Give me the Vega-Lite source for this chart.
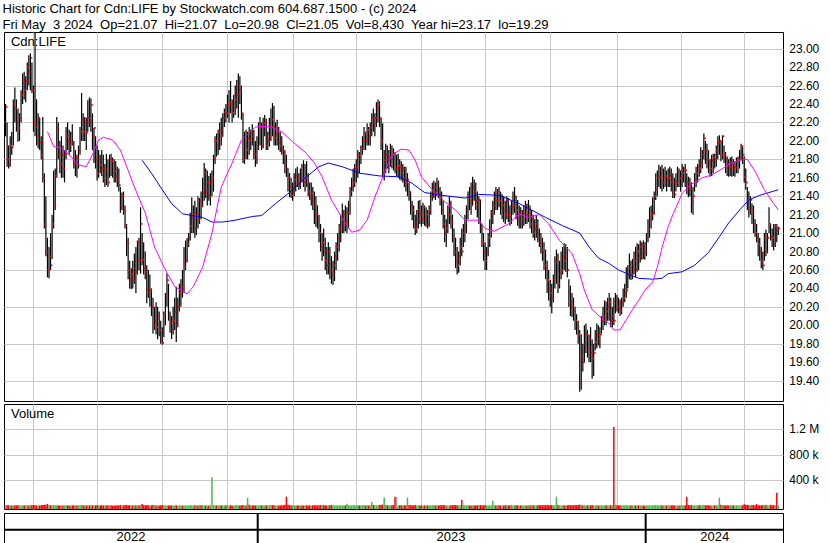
{
"$schema":"https://vega.github.io/schema/vega-lite/v6.json",
"padding":{"left":2,"top":2,"right":0,"bottom":0},
"background":"white",
"config":{"font":"Liberation Sans","view":{"stroke":"black","strokeWidth":1},"axis":{"gridColor":"#c8c8c8","gridOpacity":1,"gridWidth":1,"labelFont":"Liberation Sans","labelFontSize":12,"labelColor":"black"}},
"title":{"text":"Historic Chart for Cdn:LIFE by Stockwatch.com 604.687.1500 - (c) 2024","subtitle":"Fri May\u00a0 3 2024\u00a0 Op=21.07\u00a0 Hi=21.07\u00a0 Lo=20.98\u00a0 Cl=21.05\u00a0 Vol=8,430\u00a0 Year hi=23.17\u00a0 lo=19.29","anchor":"start","font":"Liberation Sans","subtitleFont":"Liberation Sans","fontSize":13,"subtitleFontSize":13,"fontWeight":"normal","color":"black","subtitleColor":"black","subtitlePadding":3,"offset":0},
"datasets":{
"px":[{"i":0,"h":22.4,"l":22.05,"c":22.37,"v":12},{"i":1,"h":22.2,"l":21.72,"c":21.8,"v":15},{"i":2,"h":21.95,"l":21.7,"c":21.75,"v":10},{"i":3,"h":22.05,"l":21.72,"c":21.95,"v":8},{"i":4,"h":22.1,"l":21.85,"c":21.93,"v":6},{"i":5,"h":22.45,"l":21.95,"c":22.4,"v":9},{"i":6,"h":22.58,"l":22.2,"c":22.35,"v":11},{"i":7,"h":22.45,"l":22.1,"c":22.2,"v":7},{"i":8,"h":22.35,"l":21.99,"c":22.14,"v":14},{"i":9,"h":22.3,"l":22.0,"c":22.25,"v":9},
{"i":10,"h":22.55,"l":22.2,"c":22.5,"v":6},{"i":11,"h":22.73,"l":22.4,"c":22.63,"v":10},{"i":12,"h":22.75,"l":22.45,"c":22.55,"v":8},{"i":13,"h":22.7,"l":22.42,"c":22.65,"v":12},{"i":14,"h":22.85,"l":22.55,"c":22.8,"v":9},{"i":15,"h":22.93,"l":22.6,"c":22.75,"v":7},{"i":16,"h":22.95,"l":22.55,"c":22.9,"v":11},{"i":17,"h":22.85,"l":22.52,"c":22.55,"v":15},{"i":18,"h":22.6,"l":22.1,"c":22.2,"v":13},{"i":19,"h":23.17,"l":22.05,"c":22.15,"v":10},
{"i":20,"h":22.45,"l":21.95,"c":22.05,"v":8},{"i":21,"h":22.3,"l":21.92,"c":22.25,"v":6},{"i":22,"h":22.25,"l":21.9,"c":21.98,"v":9},{"i":23,"h":22.05,"l":21.8,"c":21.85,"v":12},{"i":24,"h":22.26,"l":21.55,"c":21.6,"v":14},{"i":25,"h":21.65,"l":21.05,"c":21.1,"v":18},{"i":26,"h":21.4,"l":20.75,"c":20.8,"v":20},{"i":27,"h":20.95,"l":20.52,"c":20.6,"v":30},{"i":28,"h":20.85,"l":20.51,"c":20.75,"v":16},{"i":29,"h":21.0,"l":20.6,"c":20.65,"v":12},
{"i":30,"h":21.2,"l":20.72,"c":21.1,"v":10},{"i":31,"h":21.68,"l":21.05,"c":21.31,"v":14},{"i":32,"h":21.7,"l":21.25,"c":21.62,"v":9},{"i":33,"h":22.26,"l":21.6,"c":22.14,"v":12},{"i":34,"h":22.2,"l":21.8,"c":21.93,"v":8},{"i":35,"h":22.0,"l":21.65,"c":21.75,"v":7},{"i":36,"h":22.05,"l":21.6,"c":21.85,"v":10},{"i":37,"h":21.95,"l":21.6,"c":21.7,"v":6},{"i":38,"h":21.9,"l":21.55,"c":21.85,"v":9},{"i":39,"h":22.15,"l":21.8,"c":22.05,"v":11},
{"i":40,"h":22.2,"l":21.9,"c":22.0,"v":8},{"i":41,"h":22.12,"l":21.85,"c":21.95,"v":7},{"i":42,"h":22.1,"l":21.88,"c":22.08,"v":5},{"i":43,"h":22.18,"l":21.95,"c":21.98,"v":9},{"i":44,"h":22.0,"l":21.7,"c":21.75,"v":12},{"i":45,"h":21.9,"l":21.62,"c":21.83,"v":8},{"i":46,"h":21.85,"l":21.6,"c":21.8,"v":6},{"i":47,"h":21.95,"l":21.7,"c":21.9,"v":10},{"i":48,"h":22.15,"l":21.85,"c":22.1,"v":9},{"i":49,"h":22.52,"l":22.0,"c":22.23,"v":15},
{"i":50,"h":22.3,"l":22.0,"c":22.1,"v":11},{"i":51,"h":22.26,"l":22.0,"c":22.2,"v":7},{"i":52,"h":22.25,"l":21.9,"c":22.09,"v":8},{"i":53,"h":22.44,"l":22.1,"c":22.25,"v":10},{"i":54,"h":22.47,"l":22.15,"c":22.2,"v":6},{"i":55,"h":22.46,"l":22.1,"c":22.39,"v":9},{"i":56,"h":22.3,"l":21.9,"c":22.05,"v":12},{"i":57,"h":22.14,"l":21.76,"c":22.14,"v":8},{"i":58,"h":22.05,"l":21.7,"c":21.8,"v":10},{"i":59,"h":21.95,"l":21.57,"c":21.65,"v":13},
{"i":60,"h":21.9,"l":21.6,"c":21.82,"v":7},{"i":61,"h":21.85,"l":21.65,"c":21.74,"v":6},{"i":62,"h":21.9,"l":21.62,"c":21.7,"v":9},{"i":63,"h":21.85,"l":21.55,"c":21.65,"v":8},{"i":64,"h":21.75,"l":21.5,"c":21.7,"v":11},{"i":65,"h":21.86,"l":21.52,"c":21.6,"v":7},{"i":66,"h":21.8,"l":21.5,"c":21.55,"v":9},{"i":67,"h":21.85,"l":21.6,"c":21.8,"v":6},{"i":68,"h":21.86,"l":21.62,"c":21.78,"v":10},{"i":69,"h":21.82,"l":21.6,"c":21.75,"v":5},
{"i":70,"h":21.8,"l":21.55,"c":21.67,"v":8},{"i":71,"h":21.78,"l":21.55,"c":21.62,"v":9},{"i":72,"h":21.72,"l":21.5,"c":21.58,"v":7},{"i":73,"h":21.7,"l":21.45,"c":21.52,"v":12},{"i":74,"h":21.5,"l":21.22,"c":21.3,"v":15},{"i":75,"h":21.44,"l":21.25,"c":21.4,"v":9},{"i":76,"h":21.45,"l":21.2,"c":21.25,"v":8},{"i":77,"h":21.3,"l":21.05,"c":21.08,"v":14},{"i":78,"h":21.1,"l":20.75,"c":20.9,"v":16},{"i":79,"h":20.95,"l":20.5,"c":20.6,"v":12},
{"i":80,"h":20.7,"l":20.4,"c":20.51,"v":10},{"i":81,"h":20.62,"l":20.39,"c":20.55,"v":8},{"i":82,"h":20.7,"l":20.4,"c":20.49,"v":9},{"i":83,"h":20.78,"l":20.45,"c":20.62,"v":7},{"i":84,"h":20.85,"l":20.35,"c":20.58,"v":11},{"i":85,"h":20.92,"l":20.55,"c":20.9,"v":8},{"i":86,"h":20.95,"l":20.6,"c":20.7,"v":10},{"i":87,"h":21.28,"l":20.56,"c":21.1,"v":14},{"i":88,"h":21.0,"l":20.65,"c":20.71,"v":30},{"i":89,"h":20.9,"l":20.55,"c":20.62,"v":12},
{"i":90,"h":20.8,"l":20.5,"c":20.58,"v":9},{"i":91,"h":20.65,"l":20.24,"c":20.4,"v":15},{"i":92,"h":20.6,"l":20.3,"c":20.35,"v":11},{"i":93,"h":20.55,"l":20.2,"c":20.38,"v":8},{"i":94,"h":20.4,"l":20.1,"c":20.2,"v":10},{"i":95,"h":20.3,"l":19.91,"c":20.0,"v":13},{"i":96,"h":20.2,"l":19.95,"c":20.05,"v":9},{"i":97,"h":20.25,"l":19.9,"c":19.98,"v":7},{"i":98,"h":20.2,"l":19.85,"c":20.1,"v":10},{"i":99,"h":20.15,"l":19.88,"c":19.95,"v":8},
{"i":100,"h":20.05,"l":19.8,"c":19.85,"v":12},{"i":101,"h":19.98,"l":19.79,"c":19.81,"v":14},{"i":102,"h":20.15,"l":19.87,"c":20.13,"v":9},{"i":103,"h":20.35,"l":20.0,"c":20.3,"v":11},{"i":104,"h":20.56,"l":20.2,"c":20.49,"v":8},{"i":105,"h":20.45,"l":20.05,"c":20.1,"v":10},{"i":106,"h":20.15,"l":19.92,"c":20.03,"v":7},{"i":107,"h":20.1,"l":19.85,"c":19.95,"v":9},{"i":108,"h":20.2,"l":19.9,"c":20.05,"v":6},{"i":109,"h":20.3,"l":19.95,"c":20.15,"v":8},
{"i":110,"h":20.42,"l":19.82,"c":20.0,"v":12},{"i":111,"h":20.3,"l":19.98,"c":20.2,"v":7},{"i":112,"h":20.45,"l":20.15,"c":20.35,"v":10},{"i":113,"h":20.5,"l":20.2,"c":20.42,"v":8},{"i":114,"h":20.6,"l":20.3,"c":20.4,"v":6},{"i":115,"h":20.85,"l":20.35,"c":20.63,"v":11},{"i":116,"h":20.92,"l":20.6,"c":20.7,"v":9},{"i":117,"h":20.95,"l":20.68,"c":20.88,"v":7},{"i":118,"h":21.0,"l":20.85,"c":20.95,"v":8},{"i":119,"h":21.22,"l":20.92,"c":21.08,"v":10},
{"i":120,"h":21.39,"l":21.0,"c":21.17,"v":12},{"i":121,"h":21.3,"l":21.0,"c":21.2,"v":6},{"i":122,"h":21.35,"l":20.95,"c":21.05,"v":9},{"i":123,"h":21.28,"l":20.98,"c":21.2,"v":8},{"i":124,"h":21.4,"l":21.05,"c":21.15,"v":7},{"i":125,"h":21.38,"l":21.1,"c":21.35,"v":10},{"i":126,"h":21.45,"l":21.15,"c":21.3,"v":9},{"i":127,"h":21.6,"l":21.28,"c":21.44,"v":12},{"i":128,"h":21.76,"l":21.35,"c":21.65,"v":8},{"i":129,"h":21.7,"l":21.38,"c":21.45,"v":6},
{"i":130,"h":21.68,"l":21.3,"c":21.55,"v":9},{"i":131,"h":21.62,"l":21.35,"c":21.4,"v":7},{"i":132,"h":21.65,"l":21.3,"c":21.55,"v":10},{"i":133,"h":21.68,"l":21.4,"c":21.6,"v":448},{"i":134,"h":21.85,"l":21.45,"c":21.81,"v":12},{"i":135,"h":22.05,"l":21.75,"c":22.0,"v":9},{"i":136,"h":22.08,"l":21.83,"c":21.95,"v":8},{"i":137,"h":22.12,"l":21.85,"c":22.1,"v":10},{"i":138,"h":22.2,"l":21.9,"c":22.12,"v":7},{"i":139,"h":22.25,"l":21.95,"c":22.05,"v":9},
{"i":140,"h":22.3,"l":22.05,"c":22.25,"v":6},{"i":141,"h":22.35,"l":22.15,"c":22.31,"v":8},{"i":142,"h":22.4,"l":22.2,"c":22.3,"v":11},{"i":143,"h":22.5,"l":22.25,"c":22.39,"v":9},{"i":144,"h":22.55,"l":22.2,"c":22.42,"v":7},{"i":145,"h":22.65,"l":22.3,"c":22.4,"v":10},{"i":146,"h":22.45,"l":22.2,"c":22.3,"v":8},{"i":147,"h":22.5,"l":22.25,"c":22.35,"v":6},{"i":148,"h":22.6,"l":22.28,"c":22.45,"v":9},{"i":149,"h":22.66,"l":22.35,"c":22.5,"v":12},
{"i":150,"h":22.73,"l":22.25,"c":22.6,"v":10},{"i":151,"h":22.7,"l":22.4,"c":22.55,"v":8},{"i":152,"h":22.6,"l":22.23,"c":22.3,"v":11},{"i":153,"h":22.3,"l":21.76,"c":21.8,"v":14},{"i":154,"h":22.1,"l":21.75,"c":21.95,"v":9},{"i":155,"h":22.12,"l":21.8,"c":21.9,"v":7},{"i":156,"h":22.1,"l":21.8,"c":22.03,"v":130},{"i":157,"h":22.15,"l":21.85,"c":22.0,"v":18},{"i":158,"h":22.12,"l":21.9,"c":22.09,"v":8},{"i":159,"h":22.18,"l":21.95,"c":22.05,"v":6},
{"i":160,"h":22.12,"l":21.8,"c":21.85,"v":9},{"i":161,"h":22.0,"l":21.72,"c":21.8,"v":7},{"i":162,"h":22.05,"l":21.75,"c":21.92,"v":10},{"i":163,"h":22.2,"l":21.9,"c":22.09,"v":8},{"i":164,"h":22.26,"l":21.95,"c":22.15,"v":12},{"i":165,"h":22.2,"l":21.9,"c":21.95,"v":9},{"i":166,"h":22.25,"l":21.92,"c":22.19,"v":10},{"i":167,"h":22.28,"l":22.05,"c":22.2,"v":7},{"i":168,"h":22.24,"l":21.9,"c":21.95,"v":11},{"i":169,"h":22.1,"l":21.9,"c":22.0,"v":8},
{"i":170,"h":22.25,"l":21.94,"c":22.05,"v":14},{"i":171,"h":22.35,"l":22.0,"c":22.23,"v":16},{"i":172,"h":22.41,"l":22.05,"c":22.15,"v":12},{"i":173,"h":22.38,"l":21.95,"c":22.03,"v":10},{"i":174,"h":22.2,"l":21.95,"c":22.07,"v":9},{"i":175,"h":22.23,"l":21.95,"c":22.1,"v":7},{"i":176,"h":22.15,"l":21.9,"c":21.98,"v":8},{"i":177,"h":22.1,"l":21.88,"c":21.95,"v":6},{"i":178,"h":22.05,"l":21.85,"c":21.9,"v":10},{"i":179,"h":21.95,"l":21.75,"c":21.85,"v":12},
{"i":180,"h":21.9,"l":21.65,"c":21.76,"v":20},{"i":181,"h":21.85,"l":21.61,"c":21.7,"v":145},{"i":182,"h":21.7,"l":21.45,"c":21.6,"v":18},{"i":183,"h":21.65,"l":21.39,"c":21.5,"v":12},{"i":184,"h":21.6,"l":21.38,"c":21.41,"v":9},{"i":185,"h":21.55,"l":21.35,"c":21.45,"v":8},{"i":186,"h":21.65,"l":21.4,"c":21.58,"v":12},{"i":187,"h":21.7,"l":21.45,"c":21.62,"v":7},{"i":188,"h":21.72,"l":21.5,"c":21.55,"v":9},{"i":189,"h":21.65,"l":21.47,"c":21.52,"v":6},
{"i":190,"h":21.7,"l":21.48,"c":21.67,"v":10},{"i":191,"h":21.75,"l":21.55,"c":21.6,"v":8},{"i":192,"h":21.79,"l":21.5,"c":21.55,"v":7},{"i":193,"h":21.75,"l":21.45,"c":21.6,"v":9},{"i":194,"h":21.78,"l":21.5,"c":21.52,"v":11},{"i":195,"h":21.65,"l":21.4,"c":21.45,"v":8},{"i":196,"h":21.55,"l":21.36,"c":21.4,"v":10},{"i":197,"h":21.55,"l":21.3,"c":21.43,"v":6},{"i":198,"h":21.5,"l":21.25,"c":21.35,"v":9},{"i":199,"h":21.45,"l":21.1,"c":21.3,"v":12},
{"i":200,"h":21.4,"l":21.07,"c":21.2,"v":10},{"i":201,"h":21.3,"l":21.05,"c":21.15,"v":8},{"i":202,"h":21.2,"l":20.9,"c":21.0,"v":11},{"i":203,"h":21.1,"l":20.8,"c":20.85,"v":14},{"i":204,"h":21.0,"l":20.7,"c":20.9,"v":9},{"i":205,"h":21.05,"l":20.75,"c":20.8,"v":12},{"i":206,"h":20.95,"l":20.6,"c":20.7,"v":10},{"i":207,"h":20.85,"l":20.55,"c":20.65,"v":8},{"i":208,"h":20.9,"l":20.55,"c":20.8,"v":9},{"i":209,"h":20.85,"l":20.5,"c":20.6,"v":12},
{"i":210,"h":20.75,"l":20.45,"c":20.55,"v":15},{"i":211,"h":20.7,"l":20.44,"c":20.65,"v":10},{"i":212,"h":20.8,"l":20.48,"c":20.75,"v":8},{"i":213,"h":20.9,"l":20.6,"c":20.85,"v":9},{"i":214,"h":21.0,"l":20.7,"c":20.95,"v":7},{"i":215,"h":21.1,"l":20.8,"c":21.05,"v":11},{"i":216,"h":21.2,"l":20.9,"c":21.1,"v":8},{"i":217,"h":21.32,"l":21.0,"c":21.15,"v":10},{"i":218,"h":21.25,"l":21.0,"c":21.2,"v":6},{"i":219,"h":21.3,"l":21.02,"c":21.12,"v":9},
{"i":220,"h":21.28,"l":21.0,"c":21.22,"v":36},{"i":221,"h":21.35,"l":21.05,"c":21.3,"v":12},{"i":222,"h":21.5,"l":21.2,"c":21.45,"v":10},{"i":223,"h":21.6,"l":21.4,"c":21.5,"v":8},{"i":224,"h":21.7,"l":21.45,"c":21.55,"v":9},{"i":225,"h":21.75,"l":21.5,"c":21.7,"v":11},{"i":226,"h":21.8,"l":21.55,"c":21.72,"v":7},{"i":227,"h":21.9,"l":21.6,"c":21.85,"v":10},{"i":228,"h":21.88,"l":21.65,"c":21.8,"v":8},{"i":229,"h":21.95,"l":21.75,"c":21.92,"v":9},
{"i":230,"h":22.05,"l":21.85,"c":22.0,"v":12},{"i":231,"h":22.15,"l":21.9,"c":22.08,"v":10},{"i":232,"h":22.1,"l":21.9,"c":22.0,"v":7},{"i":233,"h":22.19,"l":21.95,"c":22.12,"v":9},{"i":234,"h":22.15,"l":21.95,"c":22.05,"v":8},{"i":235,"h":22.2,"l":21.95,"c":22.15,"v":11},{"i":236,"h":22.3,"l":22.05,"c":22.25,"v":62},{"i":237,"h":22.35,"l":22.1,"c":22.2,"v":14},{"i":238,"h":22.3,"l":22.05,"c":22.25,"v":9},{"i":239,"h":22.42,"l":22.15,"c":22.35,"v":12},
{"i":240,"h":22.45,"l":22.2,"c":22.4,"v":10},{"i":241,"h":22.43,"l":22.15,"c":22.25,"v":15},{"i":242,"h":22.25,"l":21.9,"c":22.0,"v":18},{"i":243,"h":22.19,"l":21.6,"c":21.65,"v":20},{"i":244,"h":21.9,"l":21.57,"c":21.79,"v":130},{"i":245,"h":21.97,"l":21.65,"c":21.85,"v":16},{"i":246,"h":21.95,"l":21.7,"c":21.8,"v":12},{"i":247,"h":21.9,"l":21.65,"c":21.82,"v":10},{"i":248,"h":21.97,"l":21.72,"c":21.9,"v":9},{"i":249,"h":21.95,"l":21.7,"c":21.85,"v":11},
{"i":250,"h":21.92,"l":21.68,"c":21.75,"v":14},{"i":251,"h":21.88,"l":21.65,"c":21.7,"v":145},{"i":252,"h":21.85,"l":21.62,"c":21.7,"v":140},{"i":253,"h":21.86,"l":21.6,"c":21.73,"v":12},{"i":254,"h":21.8,"l":21.58,"c":21.72,"v":9},{"i":255,"h":21.78,"l":21.57,"c":21.65,"v":10},{"i":256,"h":21.75,"l":21.55,"c":21.7,"v":8},{"i":257,"h":21.72,"l":21.5,"c":21.6,"v":11},{"i":258,"h":21.72,"l":21.45,"c":21.55,"v":9},{"i":259,"h":21.65,"l":21.4,"c":21.58,"v":130},
{"i":260,"h":21.55,"l":21.35,"c":21.45,"v":14},{"i":261,"h":21.45,"l":21.2,"c":21.3,"v":12},{"i":262,"h":21.35,"l":21.14,"c":21.25,"v":10},{"i":263,"h":21.3,"l":21.05,"c":21.1,"v":9},{"i":264,"h":21.2,"l":20.98,"c":21.05,"v":13},{"i":265,"h":21.25,"l":21.0,"c":21.15,"v":8},{"i":266,"h":21.35,"l":21.05,"c":21.25,"v":10},{"i":267,"h":21.36,"l":21.1,"c":21.2,"v":7},{"i":268,"h":21.3,"l":21.07,"c":21.15,"v":9},{"i":269,"h":21.33,"l":21.1,"c":21.28,"v":8},
{"i":270,"h":21.3,"l":21.08,"c":21.15,"v":11},{"i":271,"h":21.28,"l":21.07,"c":21.2,"v":6},{"i":272,"h":21.25,"l":21.05,"c":21.1,"v":9},{"i":273,"h":21.3,"l":21.07,"c":21.25,"v":8},{"i":274,"h":21.45,"l":21.2,"c":21.4,"v":10},{"i":275,"h":21.55,"l":21.35,"c":21.45,"v":12},{"i":276,"h":21.57,"l":21.38,"c":21.5,"v":9},{"i":277,"h":21.55,"l":21.36,"c":21.45,"v":7},{"i":278,"h":21.6,"l":21.4,"c":21.55,"v":10},{"i":279,"h":21.57,"l":21.38,"c":21.42,"v":8},
{"i":280,"h":21.5,"l":21.3,"c":21.4,"v":9},{"i":281,"h":21.45,"l":21.2,"c":21.25,"v":12},{"i":282,"h":21.35,"l":21.05,"c":21.1,"v":14},{"i":283,"h":21.2,"l":20.9,"c":21.0,"v":11},{"i":284,"h":21.15,"l":20.85,"c":21.05,"v":9},{"i":285,"h":21.3,"l":21.0,"c":21.2,"v":8},{"i":286,"h":21.4,"l":21.1,"c":21.3,"v":10},{"i":287,"h":21.35,"l":21.05,"c":21.12,"v":9},{"i":288,"h":21.2,"l":20.9,"c":20.95,"v":12},{"i":289,"h":21.05,"l":20.75,"c":20.8,"v":15},
{"i":290,"h":20.95,"l":20.62,"c":20.7,"v":13},{"i":291,"h":20.85,"l":20.55,"c":20.65,"v":10},{"i":292,"h":20.8,"l":20.57,"c":20.75,"v":8},{"i":293,"h":20.95,"l":20.65,"c":20.85,"v":9},{"i":294,"h":21.05,"l":20.75,"c":20.8,"v":98},{"i":295,"h":21.1,"l":20.85,"c":21.0,"v":12},{"i":296,"h":21.2,"l":20.9,"c":21.1,"v":10},{"i":297,"h":21.3,"l":21.0,"c":21.25,"v":8},{"i":298,"h":21.45,"l":21.15,"c":21.4,"v":11},{"i":299,"h":21.5,"l":21.25,"c":21.35,"v":9},
{"i":300,"h":21.55,"l":21.2,"c":21.3,"v":7},{"i":301,"h":21.61,"l":21.3,"c":21.5,"v":10},{"i":302,"h":21.58,"l":21.35,"c":21.45,"v":8},{"i":303,"h":21.55,"l":21.25,"c":21.35,"v":9},{"i":304,"h":21.45,"l":21.17,"c":21.3,"v":12},{"i":305,"h":21.4,"l":21.1,"c":21.36,"v":10},{"i":306,"h":21.36,"l":21.0,"c":21.05,"v":14},{"i":307,"h":21.1,"l":20.85,"c":20.9,"v":12},{"i":308,"h":21.0,"l":20.7,"c":20.8,"v":10},{"i":309,"h":20.9,"l":20.6,"c":20.7,"v":9},
{"i":310,"h":20.85,"l":20.6,"c":20.8,"v":11},{"i":311,"h":21.0,"l":20.75,"c":20.95,"v":8},{"i":312,"h":21.15,"l":20.85,"c":21.05,"v":10},{"i":313,"h":21.25,"l":20.95,"c":21.22,"v":9},{"i":314,"h":21.35,"l":21.1,"c":21.3,"v":83},{"i":315,"h":21.45,"l":21.2,"c":21.4,"v":12},{"i":316,"h":21.5,"l":21.25,"c":21.35,"v":9},{"i":317,"h":21.48,"l":21.25,"c":21.45,"v":8},{"i":318,"h":21.5,"l":21.28,"c":21.35,"v":10},{"i":319,"h":21.45,"l":21.2,"c":21.3,"v":7},
{"i":320,"h":21.42,"l":21.15,"c":21.3,"v":9},{"i":321,"h":21.4,"l":21.12,"c":21.25,"v":8},{"i":322,"h":21.35,"l":21.1,"c":21.2,"v":11},{"i":323,"h":21.4,"l":21.15,"c":21.35,"v":9},{"i":324,"h":21.38,"l":21.12,"c":21.2,"v":7},{"i":325,"h":21.3,"l":21.08,"c":21.18,"v":10},{"i":326,"h":21.35,"l":21.1,"c":21.28,"v":16},{"i":327,"h":21.45,"l":21.2,"c":21.3,"v":8},{"i":328,"h":21.5,"l":21.22,"c":21.4,"v":12},{"i":329,"h":21.4,"l":21.15,"c":21.25,"v":9},
{"i":330,"h":21.36,"l":21.08,"c":21.15,"v":10},{"i":331,"h":21.3,"l":21.05,"c":21.2,"v":7},{"i":332,"h":21.28,"l":21.05,"c":21.1,"v":9},{"i":333,"h":21.25,"l":21.05,"c":21.15,"v":8},{"i":334,"h":21.3,"l":21.08,"c":21.22,"v":11},{"i":335,"h":21.35,"l":21.1,"c":21.3,"v":9},{"i":336,"h":21.32,"l":21.1,"c":21.2,"v":7},{"i":337,"h":21.36,"l":21.12,"c":21.25,"v":10},{"i":338,"h":21.3,"l":21.05,"c":21.1,"v":9},{"i":339,"h":21.25,"l":21.0,"c":21.15,"v":8},
{"i":340,"h":21.2,"l":20.95,"c":21.0,"v":11},{"i":341,"h":21.15,"l":20.92,"c":21.05,"v":9},{"i":342,"h":21.2,"l":20.95,"c":21.1,"v":7},{"i":343,"h":21.15,"l":20.9,"c":20.95,"v":10},{"i":344,"h":21.05,"l":20.85,"c":20.9,"v":12},{"i":345,"h":21.0,"l":20.78,"c":20.82,"v":14},{"i":346,"h":20.95,"l":20.7,"c":20.8,"v":10},{"i":347,"h":20.9,"l":20.6,"c":20.65,"v":13},{"i":348,"h":20.82,"l":20.5,"c":20.62,"v":11},{"i":349,"h":20.7,"l":20.35,"c":20.49,"v":15},
{"i":350,"h":20.6,"l":20.27,"c":20.4,"v":12},{"i":351,"h":20.49,"l":20.2,"c":20.35,"v":10},{"i":352,"h":20.45,"l":20.13,"c":20.29,"v":14},{"i":353,"h":20.55,"l":20.25,"c":20.5,"v":9},{"i":354,"h":20.75,"l":20.4,"c":20.69,"v":12},{"i":355,"h":20.82,"l":20.45,"c":20.75,"v":145},{"i":356,"h":20.78,"l":20.35,"c":20.45,"v":15},{"i":357,"h":20.7,"l":20.4,"c":20.56,"v":10},{"i":358,"h":20.8,"l":20.5,"c":20.6,"v":8},{"i":359,"h":20.85,"l":20.55,"c":20.75,"v":9},
{"i":360,"h":20.89,"l":20.6,"c":20.7,"v":11},{"i":361,"h":20.88,"l":20.58,"c":20.8,"v":7},{"i":362,"h":20.85,"l":20.52,"c":20.6,"v":10},{"i":363,"h":20.5,"l":20.2,"c":20.35,"v":13},{"i":364,"h":20.43,"l":20.1,"c":20.25,"v":12},{"i":365,"h":20.35,"l":20.09,"c":20.2,"v":9},{"i":366,"h":20.3,"l":20.05,"c":20.15,"v":11},{"i":367,"h":20.2,"l":19.95,"c":20.05,"v":14},{"i":368,"h":20.12,"l":19.9,"c":19.99,"v":12},{"i":369,"h":20.05,"l":19.8,"c":19.9,"v":16},
{"i":370,"h":19.95,"l":19.28,"c":19.37,"v":20},{"i":371,"h":19.9,"l":19.3,"c":19.66,"v":18},{"i":372,"h":19.8,"l":19.5,"c":19.6,"v":12},{"i":373,"h":20.0,"l":19.6,"c":19.8,"v":10},{"i":374,"h":20.02,"l":19.7,"c":19.9,"v":9},{"i":375,"h":19.95,"l":19.65,"c":19.75,"v":11},{"i":376,"h":19.9,"l":19.6,"c":19.85,"v":8},{"i":377,"h":19.98,"l":19.6,"c":19.7,"v":10},{"i":378,"h":19.85,"l":19.42,"c":19.64,"v":14},{"i":379,"h":19.8,"l":19.45,"c":19.7,"v":9},
{"i":380,"h":19.95,"l":19.73,"c":19.82,"v":8},{"i":381,"h":20.02,"l":19.75,"c":19.9,"v":10},{"i":382,"h":20.0,"l":19.78,"c":19.85,"v":7},{"i":383,"h":19.98,"l":19.75,"c":19.9,"v":9},{"i":384,"h":20.1,"l":19.91,"c":20.05,"v":11},{"i":385,"h":20.2,"l":19.95,"c":20.1,"v":8},{"i":386,"h":20.27,"l":20.0,"c":20.25,"v":10},{"i":387,"h":20.25,"l":20.0,"c":20.15,"v":9},{"i":388,"h":20.3,"l":20.05,"c":20.2,"v":7},{"i":389,"h":20.35,"l":20.05,"c":20.25,"v":10},
{"i":390,"h":20.3,"l":19.98,"c":20.05,"v":12},{"i":391,"h":20.2,"l":19.98,"c":20.1,"v":9},{"i":392,"h":20.3,"l":20.0,"c":20.05,"v":1237},{"i":393,"h":20.35,"l":20.13,"c":20.28,"v":20},{"i":394,"h":20.33,"l":20.15,"c":20.2,"v":12},{"i":395,"h":20.3,"l":20.13,"c":20.18,"v":9},{"i":396,"h":20.28,"l":20.1,"c":20.15,"v":10},{"i":397,"h":20.3,"l":20.12,"c":20.25,"v":8},{"i":398,"h":20.4,"l":20.2,"c":20.3,"v":11},{"i":399,"h":20.45,"l":20.25,"c":20.35,"v":9},
{"i":400,"h":20.63,"l":20.3,"c":20.38,"v":12},{"i":401,"h":20.65,"l":20.4,"c":20.55,"v":10},{"i":402,"h":20.78,"l":20.5,"c":20.62,"v":8},{"i":403,"h":20.7,"l":20.49,"c":20.55,"v":9},{"i":404,"h":20.72,"l":20.5,"c":20.65,"v":7},{"i":405,"h":20.8,"l":20.55,"c":20.7,"v":10},{"i":406,"h":20.85,"l":20.52,"c":20.6,"v":8},{"i":407,"h":20.89,"l":20.58,"c":20.8,"v":11},{"i":408,"h":20.88,"l":20.6,"c":20.75,"v":9},{"i":409,"h":20.92,"l":20.68,"c":20.85,"v":7},
{"i":410,"h":20.9,"l":20.71,"c":20.87,"v":6},{"i":411,"h":20.92,"l":20.72,"c":20.8,"v":8},{"i":412,"h":20.9,"l":20.71,"c":20.79,"v":5},{"i":413,"h":21.0,"l":20.75,"c":20.95,"v":9},{"i":414,"h":21.15,"l":20.9,"c":21.05,"v":12},{"i":415,"h":21.28,"l":20.95,"c":21.14,"v":10},{"i":416,"h":21.3,"l":21.05,"c":21.2,"v":8},{"i":417,"h":21.39,"l":21.14,"c":21.22,"v":11},{"i":418,"h":21.45,"l":21.2,"c":21.4,"v":9},{"i":419,"h":21.65,"l":21.36,"c":21.47,"v":14},
{"i":420,"h":21.68,"l":21.4,"c":21.6,"v":10},{"i":421,"h":21.74,"l":21.5,"c":21.61,"v":8},{"i":422,"h":21.72,"l":21.48,"c":21.68,"v":9},{"i":423,"h":21.74,"l":21.45,"c":21.55,"v":12},{"i":424,"h":21.7,"l":21.48,"c":21.6,"v":7},{"i":425,"h":21.72,"l":21.5,"c":21.62,"v":10},{"i":426,"h":21.68,"l":21.45,"c":21.58,"v":8},{"i":427,"h":21.7,"l":21.5,"c":21.6,"v":9},{"i":428,"h":21.72,"l":21.5,"c":21.62,"v":6},{"i":429,"h":21.7,"l":21.45,"c":21.55,"v":10},
{"i":430,"h":21.65,"l":21.38,"c":21.45,"v":12},{"i":431,"h":21.6,"l":21.38,"c":21.42,"v":9},{"i":432,"h":21.65,"l":21.45,"c":21.55,"v":8},{"i":433,"h":21.72,"l":21.5,"c":21.67,"v":10},{"i":434,"h":21.7,"l":21.5,"c":21.6,"v":7},{"i":435,"h":21.68,"l":21.45,"c":21.62,"v":9},{"i":436,"h":21.75,"l":21.5,"c":21.65,"v":11},{"i":437,"h":21.72,"l":21.55,"c":21.7,"v":8},{"i":438,"h":21.75,"l":21.5,"c":21.68,"v":10},{"i":439,"h":21.65,"l":21.42,"c":21.55,"v":145},
{"i":440,"h":21.61,"l":21.39,"c":21.5,"v":14},{"i":441,"h":21.6,"l":21.4,"c":21.48,"v":10},{"i":442,"h":21.55,"l":21.22,"c":21.34,"v":12},{"i":443,"h":21.5,"l":21.2,"c":21.4,"v":9},{"i":444,"h":21.65,"l":21.45,"c":21.58,"v":11},{"i":445,"h":21.72,"l":21.5,"c":21.65,"v":8},{"i":446,"h":21.75,"l":21.55,"c":21.72,"v":10},{"i":447,"h":21.8,"l":21.61,"c":21.7,"v":9},{"i":448,"h":21.93,"l":21.65,"c":21.76,"v":12},{"i":449,"h":21.9,"l":21.7,"c":21.85,"v":10},
{"i":450,"h":22.08,"l":21.8,"c":22.03,"v":14},{"i":451,"h":22.0,"l":21.75,"c":21.9,"v":11},{"i":452,"h":21.97,"l":21.7,"c":21.8,"v":9},{"i":453,"h":21.9,"l":21.65,"c":21.75,"v":10},{"i":454,"h":21.8,"l":21.61,"c":21.7,"v":8},{"i":455,"h":21.85,"l":21.62,"c":21.78,"v":9},{"i":456,"h":21.86,"l":21.65,"c":21.82,"v":7},{"i":457,"h":21.86,"l":21.7,"c":21.8,"v":10},{"i":458,"h":21.95,"l":21.72,"c":21.9,"v":12},{"i":459,"h":22.05,"l":21.8,"c":21.98,"v":9},
{"i":460,"h":22.06,"l":21.85,"c":22.0,"v":130},{"i":461,"h":22.0,"l":21.78,"c":21.85,"v":20},{"i":462,"h":22.06,"l":21.8,"c":22.05,"v":15},{"i":463,"h":21.95,"l":21.76,"c":21.85,"v":11},{"i":464,"h":21.88,"l":21.65,"c":21.8,"v":9},{"i":465,"h":21.83,"l":21.62,"c":21.75,"v":10},{"i":466,"h":21.8,"l":21.61,"c":21.7,"v":8},{"i":467,"h":21.82,"l":21.62,"c":21.72,"v":12},{"i":468,"h":21.83,"l":21.61,"c":21.75,"v":9},{"i":469,"h":21.8,"l":21.62,"c":21.7,"v":10},
{"i":470,"h":21.78,"l":21.61,"c":21.72,"v":8},{"i":471,"h":21.82,"l":21.65,"c":21.78,"v":11},{"i":472,"h":21.83,"l":21.65,"c":21.8,"v":9},{"i":473,"h":21.9,"l":21.7,"c":21.8,"v":8},{"i":474,"h":21.97,"l":21.79,"c":21.94,"v":10},{"i":475,"h":21.95,"l":21.75,"c":21.85,"v":12},{"i":476,"h":21.83,"l":21.55,"c":21.61,"v":25},{"i":477,"h":21.7,"l":21.47,"c":21.55,"v":14},{"i":478,"h":21.5,"l":21.25,"c":21.36,"v":18},{"i":479,"h":21.45,"l":21.17,"c":21.25,"v":12},
{"i":480,"h":21.4,"l":21.2,"c":21.36,"v":9},{"i":481,"h":21.32,"l":21.1,"c":21.22,"v":11},{"i":482,"h":21.3,"l":21.0,"c":21.1,"v":14},{"i":483,"h":21.15,"l":20.96,"c":21.0,"v":12},{"i":484,"h":21.1,"l":20.9,"c":20.95,"v":31},{"i":485,"h":21.0,"l":20.75,"c":20.88,"v":10},{"i":486,"h":20.95,"l":20.7,"c":20.8,"v":12},{"i":487,"h":20.85,"l":20.62,"c":20.7,"v":9},{"i":488,"h":20.8,"l":20.6,"c":20.65,"v":14},{"i":489,"h":21.0,"l":20.7,"c":20.95,"v":11},
{"i":490,"h":21.04,"l":20.75,"c":20.8,"v":20},{"i":491,"h":21.0,"l":20.78,"c":20.95,"v":9},{"i":492,"h":21.28,"l":21.0,"c":21.1,"v":12},{"i":493,"h":21.1,"l":20.92,"c":20.96,"v":18},{"i":494,"h":21.05,"l":20.85,"c":20.95,"v":10},{"i":495,"h":21.1,"l":20.81,"c":20.87,"v":14},{"i":496,"h":21.1,"l":20.85,"c":21.08,"v":12},{"i":497,"h":21.1,"l":20.9,"c":21.03,"v":207},{"i":498,"h":21.07,"l":20.98,"c":21.05,"v":8.43}],
"ma1":[{"i":27,"m":22.1},{"i":31,"m":21.94},{"i":36,"m":21.92},{"i":41,"m":21.85},{"i":47,"m":21.74},{"i":52,"m":21.72},{"i":56,"m":21.85},{"i":60,"m":22.01},{"i":63,"m":22.04},{"i":69,"m":22.01},{"i":74,"m":21.9},{"i":79,"m":21.68},{"i":83,"m":21.5},{"i":90,"m":21.22},{"i":96,"m":20.85},{"i":103,"m":20.6},{"i":109,"m":20.42},{"i":117,"m":20.34},{"i":121,"m":20.42},{"i":127,"m":20.63},{"i":133,"m":21.0},{"i":139,"m":21.5},{"i":146,"m":21.76},{"i":152,"m":22.01},{"i":161,"m":22.15},{"i":170,"m":22.16},{"i":178,"m":22.1},{"i":185,"m":21.99},{"i":193,"m":21.88},{"i":199,"m":21.76},{"i":204,"m":21.61},{"i":210,"m":21.36},{"i":217,"m":21.16},{"i":223,"m":21.01},{"i":228,"m":21.03},{"i":233,"m":21.14},{"i":238,"m":21.39},{"i":244,"m":21.65},{"i":249,"m":21.85},{"i":255,"m":21.91},{"i":260,"m":21.9},{"i":264,"m":21.79},{"i":268,"m":21.61},{"i":275,"m":21.47},{"i":283,"m":21.34},{"i":290,"m":21.25},{"i":296,"m":21.14},{"i":305,"m":21.14},{"i":309,"m":21.05},{"i":315,"m":21.02},{"i":324,"m":21.1},{"i":331,"m":21.21},{"i":337,"m":21.17},{"i":344,"m":21.2},{"i":350,"m":21.1},{"i":357,"m":20.92},{"i":365,"m":20.78},{"i":370,"m":20.56},{"i":373,"m":20.38},{"i":378,"m":20.17},{"i":384,"m":20.08},{"i":389,"m":20.02},{"i":392,"m":19.95},{"i":396,"m":19.95},{"i":400,"m":20.06},{"i":404,"m":20.17},{"i":408,"m":20.27},{"i":412,"m":20.38},{"i":417,"m":20.47},{"i":420,"m":20.63},{"i":423,"m":20.84},{"i":427,"m":21.07},{"i":430,"m":21.2},{"i":436,"m":21.43},{"i":441,"m":21.52},{"i":449,"m":21.6},{"i":455,"m":21.63},{"i":462,"m":21.7},{"i":468,"m":21.76},{"i":475,"m":21.8},{"i":478,"m":21.8},{"i":483,"m":21.67},{"i":489,"m":21.47},{"i":495,"m":21.32},{"i":498,"m":21.25}],
"ma2":[{"i":88,"m":21.79},{"i":94,"m":21.65},{"i":101,"m":21.47},{"i":107,"m":21.32},{"i":114,"m":21.21},{"i":120,"m":21.19},{"i":127,"m":21.17},{"i":133,"m":21.12},{"i":140,"m":21.12},{"i":148,"m":21.14},{"i":159,"m":21.18},{"i":165,"m":21.19},{"i":174,"m":21.32},{"i":183,"m":21.44},{"i":191,"m":21.57},{"i":202,"m":21.72},{"i":208,"m":21.76},{"i":217,"m":21.72},{"i":228,"m":21.65},{"i":241,"m":21.62},{"i":254,"m":21.61},{"i":262,"m":21.54},{"i":270,"m":21.44},{"i":281,"m":21.41},{"i":296,"m":21.38},{"i":305,"m":21.42},{"i":318,"m":21.41},{"i":331,"m":21.32},{"i":339,"m":21.25},{"i":348,"m":21.17},{"i":359,"m":21.08},{"i":370,"m":21.0},{"i":376,"m":20.85},{"i":382,"m":20.73},{"i":389,"m":20.67},{"i":395,"m":20.6},{"i":402,"m":20.55},{"i":408,"m":20.51},{"i":417,"m":20.5},{"i":423,"m":20.51},{"i":427,"m":20.56},{"i":436,"m":20.58},{"i":444,"m":20.65},{"i":453,"m":20.79},{"i":460,"m":20.96},{"i":466,"m":21.11},{"i":473,"m":21.25},{"i":479,"m":21.36},{"i":486,"m":21.41},{"i":494,"m":21.45},{"i":498,"m":21.47}],
"yl":[{"v":19.4},{"v":19.6},{"v":19.8},{"v":20.0},{"v":20.2},{"v":20.4},{"v":20.6},{"v":20.8},{"v":21.0},{"v":21.2},{"v":21.4},{"v":21.6},{"v":21.8},{"v":22.0},{"v":22.2},{"v":22.4},{"v":22.6},{"v":22.8},{"v":23.0}],
"vl":[{"v":400,"t":"400 k"},{"v":800,"t":"800 k"},{"v":1200,"t":"1.2 M"}],
"yr":[{"y":"2022","p":80.8},{"y":"2023","p":287},{"y":"2024","p":457}],
"yb":[{"p":162.5},{"p":412.5}]
},
"spacing":0,
"vconcat":[
{"spacing":1,"vconcat":[
{"width":779,"height":369,
"layer":[
{"data":{"name":"px"},"mark":{"type":"rule","strokeWidth":1.2,"color":"black"},"encoding":{"x":{"field":"i","type":"quantitative","scale":{"domain":[-1,501],"nice":false,"zero":false},"axis":{"values":[18,38,59,80,101,122,143,163,185,205,226,246,268,288,309,331,351,373,394,413,435,456,476,497],"grid":true,"labels":false,"ticks":false,"domain":false,"title":null,"minExtent":0,"maxExtent":0}},"y":{"field":"l","type":"quantitative","scale":{"domain":[19.179,23.181],"nice":false,"zero":false},"axis":{"orient":"right","values":[19.4,19.6,19.8,20.0,20.2,20.4,20.6,20.8,21.0,21.2,21.4,21.6,21.8,22.0,22.2,22.4,22.6,22.8,23.0],"grid":true,"labels":false,"ticks":false,"domain":false,"title":null,"minExtent":0,"maxExtent":0}},"y2":{"field":"h"}}},
{"data":{"values":[{"t":"Cdn:LIFE"}]},"mark":{"type":"text","align":"left","baseline":"middle","fontSize":13,"font":"Liberation Sans","color":"black"},"encoding":{"x":{"datum":3.5,"type":"quantitative"},"y":{"datum":23.075,"type":"quantitative"},"text":{"field":"t"}}},
{"data":{"name":"px"},"mark":{"type":"square","size":3,"color":"#ff0000","opacity":1,"xOffset":1},"encoding":{"x":{"field":"i","type":"quantitative"},"y":{"field":"c","type":"quantitative"}}},
{"data":{"name":"ma2"},"mark":{"type":"line","color":"#0000ff","strokeWidth":1},"encoding":{"x":{"field":"i","type":"quantitative"},"y":{"field":"m","type":"quantitative"}}},
{"data":{"name":"ma1"},"mark":{"type":"line","color":"#ff00ff","strokeWidth":1},"encoding":{"x":{"field":"i","type":"quantitative"},"y":{"field":"m","type":"quantitative"}}},
{"data":{"name":"yl"},"mark":{"type":"text","align":"left","baseline":"middle","fontSize":12,"font":"Liberation Sans","color":"black"},"encoding":{"x":{"datum":505,"type":"quantitative"},"y":{"field":"v","type":"quantitative"},"text":{"field":"v","type":"quantitative","format":".2f"}}}
]},
{"width":779,"height":105,
"layer":[
{"data":{"name":"px"},"transform":[{"window":[{"op":"lag","field":"c","as":"pc"}],"sort":[{"field":"i"}]}],"mark":{"type":"rule","strokeWidth":1.5},"encoding":{"x":{"field":"i","type":"quantitative","scale":{"domain":[-1,501],"nice":false,"zero":false},"axis":{"values":[18,38,59,80,101,122,143,163,185,205,226,246,268,288,309,331,351,373,394,413,435,456,476,497],"grid":true,"labels":false,"ticks":false,"domain":false,"title":null,"minExtent":0,"maxExtent":0}},"y":{"field":"v","type":"quantitative","scale":{"domain":[-47.6,1590],"nice":false,"zero":false},"axis":{"orient":"right","values":[400,800,1200],"grid":true,"labels":false,"ticks":false,"domain":false,"title":null,"minExtent":0,"maxExtent":0}},"y2":{"datum":-47.6},"color":{"condition":[{"test":"datum.pc != null && datum.c > datum.pc","value":"#4cb84c"},{"test":"datum.pc != null && datum.c < datum.pc","value":"#ff0000"}],"value":"#a0a0a0"}}},
{"data":{"values":[{"t":"Volume"}]},"mark":{"type":"text","align":"left","baseline":"middle","fontSize":13,"font":"Liberation Sans","color":"black"},"encoding":{"x":{"datum":3.5,"type":"quantitative"},"y":{"datum":1440,"type":"quantitative"},"text":{"field":"t"}}},
{"data":{"name":"vl"},"mark":{"type":"text","align":"left","baseline":"middle","fontSize":12,"font":"Liberation Sans","color":"black"},"encoding":{"x":{"datum":505,"type":"quantitative"},"y":{"field":"v","type":"quantitative"},"text":{"field":"t"}}}
]}
]},
{"width":779,"height":30,
"layer":[
{"data":{"name":"yr"},"mark":{"type":"text","fontSize":13,"baseline":"middle","font":"Liberation Sans","color":"black"},"encoding":{"x":{"field":"p","type":"quantitative","scale":{"domain":[-1,501],"nice":false,"zero":false},"axis":null},"y":{"datum":0.42,"type":"quantitative","scale":{"domain":[0,2],"nice":false},"axis":null},"text":{"field":"y"}}},
{"data":{"name":"yb"},"mark":{"type":"rule","color":"black","strokeWidth":2},"encoding":{"x":{"field":"p","type":"quantitative"}}},
{"data":{"values":[{}]},"mark":{"type":"rule","color":"black","strokeWidth":2},"encoding":{"y":{"datum":0.88,"type":"quantitative"}}}
]}
]
}
